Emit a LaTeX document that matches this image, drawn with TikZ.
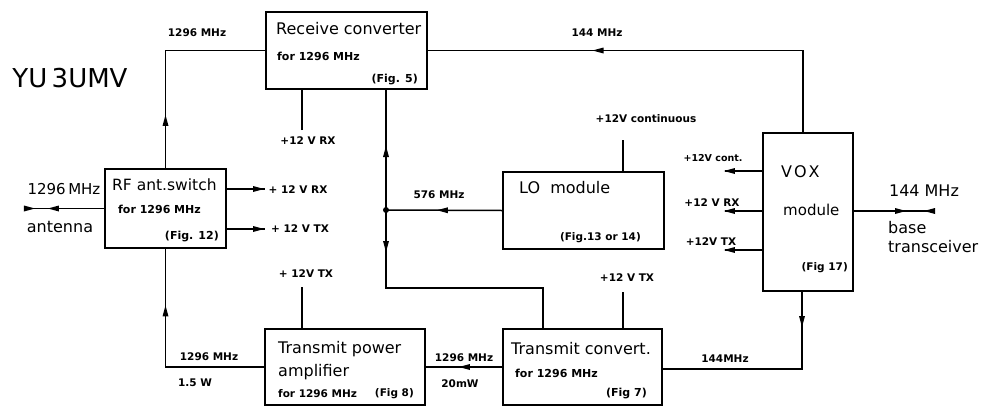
\documentclass[tikz,border=0pt]{standalone}
\usepackage{fontspec}
\setmainfont{DejaVu Sans}
\usetikzlibrary{decorations.markings}
\tikzset{
  box/.style={draw, line width=2.1pt, inner sep=0pt},
  conn/.style={line width=1.5pt},
  lbl/.style={font=\fontsize{10.5}{12}\selectfont\bfseries, inner sep=0pt},
  big/.style={font=\fontsize{16}{18}\selectfont, inner sep=0pt},
  sub/.style={font=\fontsize{11}{13}\selectfont\bfseries, inner sep=0pt},
  fwd/.style={postaction={decorate,decoration={markings,mark=at position #1 with {\fill (2pt,0pt) -- (-9pt,3pt) -- (-9pt,-3pt) -- cycle;}}}},
  bwd/.style={postaction={decorate,decoration={markings,mark=at position #1 with {\fill (-2pt,0pt) -- (9pt,3pt) -- (9pt,-3pt) -- cycle;}}}},
}
\begin{document}
\begin{tikzpicture}[x=1pt,y=-1pt]
\useasboundingbox (0,0) rectangle (993,407);

% title
\node[font=\fontsize{26}{30}\selectfont, inner sep=0pt] (title) at (70,78) {YU\,3UMV};

% boxes
\node[box, minimum width=161pt, minimum height=77pt] (rxc) at (346.5,50.5) {};
\node[box, minimum width=121pt, minimum height=79pt] (rfs) at (165.5,208.5) {};
\node[box, minimum width=161pt, minimum height=77pt] (lo)  at (583.5,210.5) {};
\node[box, minimum width=90pt,  minimum height=158pt] (vox) at (808,212) {};
\node[box, minimum width=160pt, minimum height=76pt] (pa)  at (345,367) {};
\node[box, minimum width=159pt, minimum height=76pt] (txc) at (582.5,367) {};

% box texts
\node[big, anchor=west] (rxct) at (276,29) {Receive converter};
\node[sub, anchor=west] (rxcs) at (277,56) {for 1296 MHz};
\node[sub, anchor=east] (rxcf) at (418,80) {(Fig. 5)};

\node[font=\fontsize{15.5}{18}\selectfont, inner sep=0pt, anchor=west] (rfst) at (112,185) {RF ant.switch};
\node[sub, anchor=west] (rfss) at (118,209) {for 1296 MHz};
\node[sub, anchor=east] (rfsf) at (219,237) {(Fig. 12)};

\node[big, anchor=west] (lot) at (519,188) {LO\ \ module};
\node[lbl, anchor=east] (lof) at (641,238) {(Fig.13 or 14)};

\node[big, anchor=west] (voxt) at (781,172) {V\kern2ptO\kern2ptX};
\node[font=\fontsize{15}{18}\selectfont, inner sep=0pt, anchor=west] (voxm) at (783,210) {module};
\node[lbl, anchor=east] (voxf) at (848,268) {(Fig 17)};

\node[big, anchor=west] (pat) at (278,349) {Transmit power};
\node[big, anchor=west] (pam) at (278,372) {amplifier};
\node[lbl, anchor=west] (pas) at (278,394) {for 1296 MHz};
\node[lbl, anchor=east] (paf) at (414,394) {(Fig 8)};

\node[big, anchor=west] (txct) at (511,349) {Transmit convert.};
\node[sub, anchor=west] (txcs) at (515,373) {for 1296 MHz};
\node[sub, anchor=east] (txcf) at (647,394) {(Fig 7)};

% helper coordinates
\coordinate (dot) at (386,210);
\coordinate (bend) at (543,288);
\coordinate (vtop) at (803,133);
\coordinate (vbot) at (802,291);
\coordinate (ant) at (28,208.5);
\coordinate (base) at (930,211);
\coordinate (s1) at (302,130);
\coordinate (s2) at (623,140);
\coordinate (s3) at (302,287);
\coordinate (s4) at (623,292);
\coordinate (r1) at (265,189);
\coordinate (r2) at (265,229);
\coordinate (v1) at (725,171);
\coordinate (v2) at (725,211);
\coordinate (v3) at (725,250);

% connectors
\draw[conn, fwd=51pt] (rfs.north) |- (rxc.west);
\draw[conn, fwd=291pt] (vtop) |- (rxc.east);
\draw[conn] (s1) -- (s1 |- rxc.south);
\fill (dot) circle (3pt);
\draw[conn, fwd=62pt] (dot) -- (dot |- rxc.south);
\draw[conn, fwd=40pt] (dot) |- (bend) -- (bend |- txc.north);
\draw[conn, fwd=63pt] (lo.west) -- (dot);
\draw[conn] (s2) -- (s2 |- lo.north);
\draw[conn, fwd=35pt] (rfs.east |- r1) -- (r1);
\draw[conn, fwd=35pt] (rfs.east |- r2) -- (r2);
\draw[conn, fwd=54pt, bwd=71pt] (rfs.west |- ant) -- (ant);
\draw[conn, fwd=158pt] (pa.west) -| (rfs.south);
\draw[conn] (s3) -- (s3 |- pa.north);
\draw[conn, fwd=41pt] (txc.west) -- (pa.east);
\draw[conn] (s4) -- (s4 |- txc.north);
\draw[conn, fwd=34pt] (vbot) |- (txc.east |- 0,369);
\draw[conn, fwd=36pt] (vox.west |- v1) -- (v1);
\draw[conn, fwd=36pt] (vox.west |- v2) -- (v2);
\draw[conn, fwd=36pt] (vox.west |- v3) -- (v3);
\draw[conn, fwd=50pt, bwd=72pt] (vox.east |- base) -- (base);

% labels
\node[lbl] (l1) at (197,33) {1296 MHz};
\node[lbl] (l2) at (597,33) {144 MHz};
\node[lbl] (l3) at (308,141) {+12 V RX};
\node[lbl] (l4) at (439,195) {576 MHz};
\node[lbl] (l5) at (646,119) {+12V continuous};
\node[lbl] (l6) at (298,190) {+ 12 V  RX};
\node[lbl] (l7) at (300,229) {+ 12 V  TX};
\node[lbl] (l8) at (306,274) {+ 12V TX};
\node[lbl] (l9) at (627,278) {+12 V TX};
\node[lbl] (l10) at (209,357) {1296 MHz};
\node[lbl] (l11) at (195,383) {1.5 W};
\node[lbl] (l12) at (464,358) {1296 MHz};
\node[lbl] (l13) at (460,384) {20mW};
\node[lbl] (l14) at (725,359) {144MHz};
\node[font=\fontsize{15}{18}\selectfont, inner sep=0pt] (l15) at (64,189) {1296\,MHz};
\node[big] (l16) at (60,227) {antenna};
\node[big] (l17) at (924,191) {144 MHz};
\node[big, anchor=west] (l18) at (888,228) {base};
\node[big, anchor=west] (l19) at (888,247) {transceiver};
\node[font=\fontsize{9.5}{11}\selectfont\bfseries, inner sep=0pt] (l20) at (713,158) {+12V cont.};
\node[lbl] (l21) at (712,203) {+12 V RX};
\node[lbl] (l22) at (711,242) {+12V TX};
\end{tikzpicture}
\end{document}
